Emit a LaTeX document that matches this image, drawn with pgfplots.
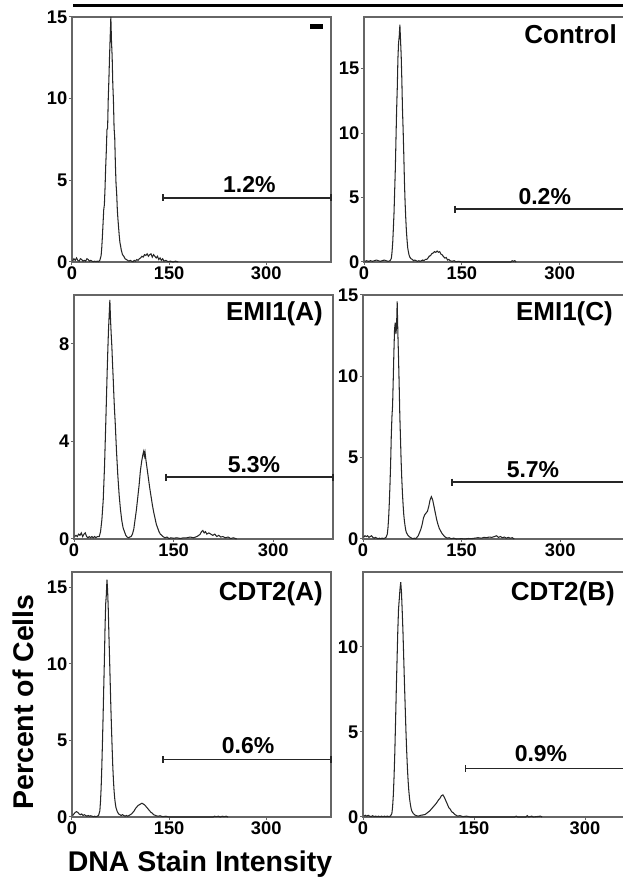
\documentclass[border=0pt]{standalone}
\usepackage{fontspec}
\setmainfont{Liberation Sans}
\usepackage{pgfplots}
\pgfplotsset{compat=1.18}

\pgfplotsset{
  panel/.style={
    scale only axis, anchor=south west, clip=false,
    xmin=0, ymin=0, xmax=400,
    axis line style={black!60, line width=1.1pt},
    tick style={black!60, line width=1pt},
    tick align=outside, major tick length=3pt,
    xtick pos=lower, ytick pos=left,
    xtick={0,150,300},
    ticklabel style={font=\fontsize{18.3}{19}\selectfont\bfseries},
    xticklabel style={inner sep=1.5pt},
    yticklabel style={inner sep=1.5pt},
    /pgf/number format/assume math mode=true,
  },
  curve/.style={black!85, line width=1.05pt, no markers},
  gate/.style={black!85, line width=1.5pt, mark=|, mark size=3.5pt, mark options={line width=1.5pt}},
}
\tikzset{
  ttl/.style={anchor=north east, inner sep=0pt, font=\fontsize{26}{27}\selectfont\bfseries},
  pct/.style={anchor=south, inner sep=0pt, yshift=5pt, font=\fontsize{23}{24}\selectfont\bfseries},
}

\begin{document}
\begin{tikzpicture}
\path[use as bounding box] (0pt,0pt) rectangle (622pt,879pt);

% top left
\begin{axis}[panel, at={(72pt,617pt)}, width=259pt, height=245pt, ymax=15, ytick={0,5,10,15}]
\addplot[curve] coordinates {(1,0.05)(3,0.2)(5,0.1)(7,0.25)(9,0.1)(11,0.05)(13,0.2)(15,0.15)(17,0.05)(19,0.1)(21,0.05)(23,0.2)(25,0.15)(27,0.05)(29,0.1)(31,0.05)(33,0.02)(35,0.05)(37,0.02)(39,0.05)(41,0.02)(43,0.1)(45,0.4)(46,0.9)(47,1.6)(48,2.4)(49,3.2)(50,3.5)(51,4.5)(52,5.8)(53,6.8)(54,8.1)(55,8.2)(56,10)(57,11.2)(58,12.6)(59,13.8)(60,15)(61,13.5)(62,12.6)(63,10.9)(64,9.9)(65,8.2)(66,7.6)(67,6.0)(68,4.8)(69,4.2)(70,3.2)(71,2.6)(72,2.1)(73,1.6)(74,1.2)(75,1.0)(76,0.75)(77,0.6)(78,0.45)(80,0.35)(82,0.2)(84,0.15)(86,0.1)(88,0.05)(90,0.1)(92,0.05)(94,0.02)(96,0.1)(98,0.05)(100,0.15)(102,0.1)(104,0.2)(106,0.25)(108,0.35)(110,0.3)(112,0.45)(114,0.4)(116,0.5)(118,0.35)(120,0.45)(122,0.5)(124,0.3)(126,0.45)(128,0.35)(130,0.25)(132,0.35)(134,0.15)(136,0.25)(138,0.1)(140,0.2)(142,0.05)(145,0.1)(148,0.02)(152,0.05)(156,0.0)(160,0.05)(164,0)};
\addplot[gate] coordinates {(140.5,3.92)(400,3.92)};
\node[pct] at (axis cs:274,3.92) {1.2\%};
\end{axis}

% top right
\begin{axis}[panel, at={(364pt,617pt)}, width=261pt, height=245pt, ymax=19, ytick={0,5,10,15}]
\addplot[curve] coordinates {(1,0.05)(4,0.1)(7,0.05)(10,0.1)(13,0.05)(16,0.1)(19,0.15)(22,0.1)(25,0.05)(28,0.1)(31,0.15)(34,0.1)(37,0.05)(40,0.1)(42,0.3)(43,0.8)(44,1.5)(45,2.6)(46,3.8)(47,5.5)(48,7.2)(49,9.5)(50,11.8)(51,13.5)(52,15.8)(53,17)(54,17.5)(55,18.4)(56,17.2)(57,16)(58,14.1)(59,11.8)(60,10.2)(61,8.3)(62,6.2)(63,4.6)(64,3.4)(65,2.4)(66,1.7)(67,1.1)(68,0.8)(69,0.55)(70,0.4)(72,0.25)(74,0.2)(76,0.1)(78,0.15)(80,0.1)(82,0.05)(84,0.1)(86,0.05)(88,0.1)(90,0.15)(92,0.1)(94,0.2)(96,0.2)(98,0.3)(100,0.45)(102,0.5)(104,0.65)(106,0.7)(108,0.8)(110,0.75)(112,0.85)(114,0.75)(116,0.8)(118,0.6)(120,0.55)(122,0.4)(124,0.3)(126,0.35)(128,0.15)(130,0.2)(132,0.1)(135,0.05)(138,0.1)(141,0.02)(145,0.05)(150,0)(225,0)(227,0.1)(229,0.05)(231,0.1)(233,0)};
\addplot[gate] coordinates {(139.5,4.1)(400,4.1)};
\node[pct, yshift=-1pt] at (axis cs:277,4.1) {0.2\%};
\end{axis}

% middle left
\begin{axis}[panel, at={(74pt,340pt)}, width=259pt, height=244pt, xmax=390, ymax=10, ytick={0,4,8}]
\addplot[curve] coordinates {(1,0.1)(3,0.15)(5,0.1)(7,0.2)(9,0.15)(11,0.25)(13,0.1)(15,0.2)(17,0.25)(19,0.1)(21,0.05)(23,0.1)(25,0.05)(27,0.1)(29,0.05)(31,0.1)(33,0.05)(35,0.1)(38,0.1)(40,0.3)(42,0.8)(44,1.6)(46,3.0)(48,4.9)(50,6.9)(51,7.8)(52,8.6)(53,9.2)(54,9.8)(55,9.0)(56,8.4)(57,7.9)(58,7.2)(59,6.6)(60,5.9)(61,5.3)(62,4.8)(63,4.2)(64,3.6)(65,3.1)(66,2.6)(68,1.8)(70,1.2)(72,0.75)(74,0.45)(76,0.3)(78,0.15)(80,0.08)(82,0.05)(84,0.08)(86,0.1)(88,0.2)(90,0.4)(92,0.8)(94,1.2)(96,1.7)(98,2.2)(100,2.8)(102,3.2)(104,3.5)(105,3.6)(106,3.4)(107,3.55)(108,3.3)(110,2.9)(112,2.5)(114,2.1)(116,1.75)(118,1.4)(120,1.1)(122,0.85)(124,0.6)(126,0.45)(128,0.3)(130,0.2)(132,0.15)(134,0.1)(137,0.05)(140,0.08)(143,0.02)(146,0.05)(150,0.03)(155,0.05)(160,0.02)(165,0.05)(170,0.05)(175,0.08)(180,0.05)(185,0.1)(188,0.15)(190,0.2)(192,0.3)(194,0.35)(196,0.25)(198,0.3)(200,0.2)(203,0.25)(206,0.2)(209,0.15)(212,0.2)(215,0.1)(218,0.15)(221,0.08)(224,0.1)(228,0.05)(232,0.08)(236,0.02)(240,0.05)(245,0)};
\addplot[gate] coordinates {(138.5,2.54)(390,2.54)};
\node[pct, yshift=-0.5pt] at (axis cs:271,2.54) {5.3\%};
\end{axis}

% middle right
\begin{axis}[panel, at={(363pt,340pt)}, width=263pt, height=244pt, ymax=15, ytick={0,5,10,15}]
\addplot[curve] coordinates {(1,0.1)(3,0.2)(5,0.15)(7,0.2)(9,0.1)(11,0.15)(13,0.2)(15,0.1)(17,0.05)(19,0.1)(21,0.05)(23,0.02)(25,0.05)(27,0.02)(29,0.05)(31,0.03)(33,0.05)(35,0.1)(37,0.3)(38,0.7)(39,1.3)(40,2.2)(41,3.3)(42,4.6)(43,6.3)(44,7.5)(45,8.2)(46,9.8)(47,11.5)(48,12.9)(49,13.3)(50,12.6)(51,13)(52,14.6)(53,12.7)(54,11.2)(55,9.5)(56,7.6)(57,6.2)(58,4.8)(59,3.7)(60,2.8)(61,2.1)(62,1.5)(63,1.1)(64,0.8)(65,0.55)(66,0.4)(68,0.25)(70,0.15)(72,0.1)(74,0.05)(76,0.02)(78,0.05)(80,0.02)(82,0.1)(84,0.2)(86,0.4)(88,0.6)(90,0.9)(92,1.3)(94,1.5)(96,1.6)(98,1.7)(100,2.0)(102,2.4)(104,2.6)(106,2.4)(108,2.0)(110,1.6)(112,1.2)(114,0.9)(116,0.65)(118,0.5)(120,0.35)(122,0.25)(124,0.15)(126,0.1)(128,0.05)(131,0.08)(134,0.02)(138,0.05)(142,0)(150,0.02)(155,0)(160,0.03)(165,0.02)(170,0.05)(175,0.08)(180,0.05)(184,0.1)(188,0.08)(192,0.12)(196,0.1)(200,0.15)(203,0.2)(206,0.1)(209,0.15)(212,0.08)(215,0.12)(218,0.05)(221,0.1)(224,0.05)(227,0.08)(230,0)};
\addplot[gate] coordinates {(135.4,3.49)(400,3.49)};
\node[pct, yshift=-0.7pt] at (axis cs:258.5,3.49) {5.7\%};
\end{axis}

% bottom left
\begin{axis}[panel, at={(72pt,62pt)}, width=259pt, height=245pt, ymax=16, ytick={0,5,10,15}]
\addplot[curve] coordinates {(1,0.1)(3,0.2)(5,0.3)(7,0.35)(9,0.3)(11,0.2)(13,0.15)(15,0.2)(17,0.1)(19,0.15)(21,0.1)(23,0.05)(25,0.1)(27,0.05)(29,0.08)(31,0.05)(33,0.02)(35,0.05)(37,0.02)(39,0.05)(41,0.1)(43,0.4)(44,1.0)(45,1.9)(46,3.2)(47,4.8)(48,6.5)(49,8.4)(50,10.2)(51,12.3)(52,13.9)(53,14.5)(54,15.5)(55,14.8)(56,13.6)(57,11.9)(58,10.4)(59,8.8)(60,7.2)(61,5.8)(62,4.5)(63,3.3)(64,2.4)(65,1.7)(66,1.2)(67,0.85)(68,0.6)(70,0.35)(72,0.2)(74,0.15)(76,0.1)(78,0.15)(80,0.1)(82,0.05)(84,0.1)(86,0.05)(88,0.1)(90,0.15)(92,0.2)(94,0.3)(96,0.4)(98,0.55)(100,0.65)(102,0.75)(104,0.8)(106,0.85)(108,0.9)(110,0.85)(112,0.8)(114,0.7)(116,0.6)(118,0.5)(120,0.4)(122,0.3)(124,0.25)(126,0.15)(128,0.12)(130,0.08)(133,0.05)(136,0.08)(140,0.02)(145,0.05)(150,0)(218,0)(220,0.05)(223,0.02)(226,0.05)(229,0)(232,0.05)(235,0.02)(238,0.05)(241,0)};
\addplot[gate] coordinates {(140.5,3.77)(400,3.77)};
\node[pct] at (axis cs:272,3.77) {0.6\%};
\end{axis}

% bottom right
\begin{axis}[panel, at={(363pt,62pt)}, width=296pt, height=245pt, ymax=14.4, ytick={0,5,10}]
\addplot[curve] coordinates {(1,0.05)(3,0.1)(5,0.05)(7,0.1)(9,0.05)(11,0.02)(13,0.08)(15,0.02)(17,0.05)(19,0.02)(21,0.05)(23,0.02)(25,0.05)(27,0.02)(29,0.05)(31,0.02)(33,0.05)(35,0.02)(37,0.05)(39,0.2)(40,0.6)(41,1.3)(42,2.4)(43,3.8)(44,5.6)(45,7.5)(46,9.2)(47,10.9)(48,12.2)(49,12.8)(50,13.4)(51,13.8)(52,13.2)(53,12.1)(54,10.9)(55,9.4)(56,7.9)(57,6.5)(58,5.1)(59,3.9)(60,2.9)(61,2.1)(62,1.5)(63,1.05)(64,0.75)(65,0.5)(66,0.35)(68,0.2)(70,0.12)(72,0.08)(75,0.05)(78,0.1)(81,0.12)(84,0.15)(87,0.25)(90,0.35)(93,0.5)(96,0.65)(99,0.8)(102,1.0)(104,1.1)(106,1.25)(108,1.3)(110,1.15)(112,0.95)(114,0.75)(116,0.55)(118,0.45)(120,0.3)(122,0.25)(124,0.15)(126,0.1)(128,0.05)(131,0.08)(135,0.02)(140,0.05)(145,0)(205,0)(207,0.05)(209,0)(220,0)(222,0.08)(224,0)(228,0.05)(230,0)(240,0.05)(242,0)};
\addplot[gate] coordinates {(138.8,2.86)(400,2.86)};
\node[pct, yshift=1pt] at (axis cs:240.5,2.86) {0.9\%};
\end{axis}

% panel titles and frame decorations
\draw[line width=3pt] (73pt,873pt) -- (630pt,873pt);
\fill (310pt,850pt) rectangle (323pt,855pt);
\node[ttl] at (617pt,855pt) {Control};
\node[ttl] at (323pt,578pt) {EMI1(A)};
\node[ttl] at (613pt,578pt) {EMI1(C)};
\node[ttl] at (323pt,298pt) {CDT2(A)};
\node[ttl] at (615pt,298pt) {CDT2(B)};

\node[rotate=90, anchor=base, font=\fontsize{28.5}{30}\selectfont\bfseries] at (33pt,177pt) {Percent of Cells};
\node[anchor=base, font=\fontsize{28.5}{30}\selectfont\bfseries] at (200pt,7pt) {DNA Stain Intensity};
\end{tikzpicture}
\end{document}
